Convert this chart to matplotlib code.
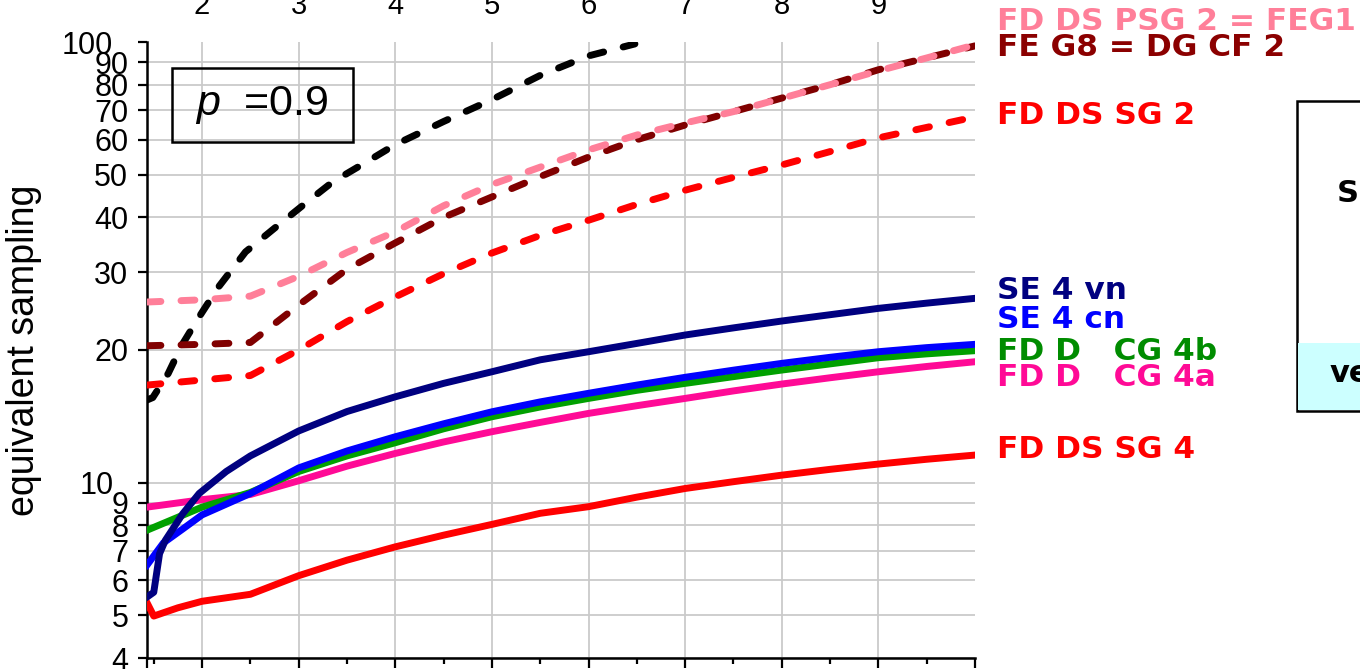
import matplotlib
matplotlib.use("Agg")
import matplotlib.pyplot as plt
from matplotlib.patches import Rectangle
from matplotlib.transforms import blended_transform_factory, ScaledTranslation

plt.rcParams["font.family"] = ["Liberation Sans", "DejaVu Sans"]
plt.rcParams["mathtext.fontset"] = "custom"
plt.rcParams["mathtext.it"] = "Liberation Sans:italic"
plt.rcParams["mathtext.rm"] = "Liberation Sans"

# ---- data -------------------------------------------------------------
x_grid = [1.43, 2.0, 2.5, 3.0, 3.5, 4.0, 4.5, 5.0, 5.5, 6.0, 6.5,
          7.0, 7.5, 8.0, 8.5, 9.0, 9.5, 10.0]

black_x = [1.43, 1.49, 1.65, 1.79, 1.96, 2.17, 2.45, 2.75, 3.05, 3.35,
           3.7, 4.0, 4.5, 5.0, 5.5, 6.0, 6.48]
black_y = [15.4, 15.6, 17.7, 20.5, 23.6, 27.8, 33.4, 37.8, 42.7, 48.1,
           53.4, 58.5, 66.0, 74.0, 84.0, 93.0, 99.0]

psg2_y = [25.7, 26.0, 26.5, 29.4, 33.3, 37.1, 42.5, 47.5, 52.0, 56.9,
          61.5, 65.5, 69.5, 74.5, 80.0, 86.0, 92.0, 98.5]
feg8_y = [20.45, 20.6, 20.8, 25.3, 30.5, 35.0, 40.0, 44.5, 49.5, 54.8,
          60.0, 64.8, 69.5, 74.6, 80.0, 86.5, 92.0, 98.0]
sg2_y = [16.65, 17.1, 17.5, 20.0, 23.2, 26.4, 29.8, 33.2, 36.4, 39.4,
         42.8, 46.1, 49.3, 52.6, 56.4, 60.6, 64.0, 67.6]

vn_x = [1.43, 1.5, 1.56, 1.62, 1.8, 1.97, 2.25, 2.5, 3.0, 3.5, 4.0, 4.5,
        5.0, 5.5, 6.0, 6.5, 7.0, 7.5, 8.0, 8.5, 9.0, 9.5, 10.0]
vn_y = [5.5, 5.64, 6.9, 7.4, 8.5, 9.45, 10.6, 11.5, 13.1, 14.5, 15.66, 16.8,
        17.85, 19.0, 19.82, 20.7, 21.63, 22.45, 23.27, 24.05, 24.86, 25.55,
        26.2]

cn_x = [1.43, 1.6, 1.8, 2.0, 2.5, 3.0, 3.5, 4.0, 4.5, 5.0, 5.5, 6.0, 6.5,
        7.0, 7.5, 8.0, 8.5, 9.0, 9.5, 10.0]
cn_y = [6.5, 7.3, 7.85, 8.45, 9.45, 10.8, 11.8, 12.71, 13.6, 14.48, 15.25,
        15.95, 16.65, 17.34, 18.0, 18.65, 19.25, 19.82, 20.25, 20.6]

cg4b_y = [7.8, 8.8, 9.5, 10.6, 11.5, 12.32, 13.25, 14.11, 14.85, 15.53,
          16.2, 16.8, 17.4, 18.01, 18.6, 19.21, 19.6, 19.93]
cg4a_y = [8.8, 9.15, 9.4, 10.1, 10.9, 11.65, 12.37, 13.05, 13.7, 14.36,
          14.95, 15.53, 16.15, 16.74, 17.3, 17.85, 18.35, 18.81]

sg4_x = [1.43, 1.5, 1.75, 2.0, 2.5, 3.0, 3.5, 4.0, 4.5, 5.0, 5.5, 6.0, 6.5,
         7.0, 7.5, 8.0, 8.5, 9.0, 9.5, 10.0]
sg4_y = [5.34, 4.98, 5.2, 5.38, 5.58, 6.15, 6.67, 7.15, 7.6, 8.04, 8.52,
         8.82, 9.27, 9.7, 10.05, 10.4, 10.72, 11.02, 11.3, 11.55]

y_ticks = [4, 5, 6, 7, 8, 9, 10, 20, 30, 40, 50, 60, 70, 80, 90, 100]
x_major = [2, 3, 4, 5, 6, 7, 8, 9, 10]
top_labels = ["2", "3", "4", "5", "6", "7", "8", "9"]

series_labels = [
    ("FD DS PSG 2 = FEG1", "#FF7F99", 22),
    ("FE G8 = DG CF 2", "#8B0000", 48),
    ("FD DS SG 2", "#FF0000", 116),
    ("SE 4 vn", "#000080", 290),
    ("SE 4 cn", "#0000FF", 320),
    ("FD D   CG 4b", "#008C00", 351),
    ("FD D   CG 4a", "#FF0A96", 377),
    ("FD DS SG 4", "#FF0000", 450),
]

# ---- figure -----------------------------------------------------------
W, H = 1360, 669
fig = plt.figure(figsize=(W / 100, H / 100), dpi=100)
ax = fig.add_axes([147 / W, 11 / H, 828 / W, 616 / H])
ax.set_yscale("log")
ax.set_xlim(1.43, 10.0)
ax.set_ylim(4, 100)

grid_c = "#CACACA"
for v in y_ticks[:-1]:
    ax.axhline(v, color=grid_c, lw=1.3, zorder=0)
for v in x_major[:-1]:
    ax.axvline(v, color=grid_c, lw=1.3, zorder=0)

dash = (2.0, 2.9)
lw = 5.0
dash_kw = dict(lw=lw, dashes=dash, dash_capstyle="round", zorder=3)
ax.plot(black_x, black_y, color="black", **dash_kw)
ax.plot(x_grid, feg8_y, color="#800000", **dash_kw)
ax.plot(x_grid, psg2_y, color="#FF7F99", **dash_kw)
ax.plot(x_grid, sg2_y, color="#FF0000", **dash_kw)

ax.plot(sg4_x, sg4_y, color="#FF0000", lw=lw, zorder=3)
ax.plot(x_grid, cg4a_y, color="#FF0A96", lw=lw, zorder=3)
ax.plot(x_grid, cg4b_y, color="#00A000", lw=lw, zorder=3)
ax.plot(cn_x, cn_y, color="#0000FF", lw=lw, zorder=3)
ax.plot(vn_x, vn_y, color="#000080", lw=lw, zorder=3)

ax.set_yticks(y_ticks)
ax.set_yticklabels([str(v) for v in y_ticks])
ax.yaxis.set_minor_locator(matplotlib.ticker.NullLocator())
ax.tick_params(axis="y", which="major", direction="out", length=6.5,
               width=1.6, labelsize=22, pad=7)

# labels of the decade lines sit a little further out
shift = ScaledTranslation(-15 / 100, 0, fig.dpi_scale_trans)
for tick, v in zip(ax.yaxis.get_major_ticks(), y_ticks):
    if v in (10, 100):
        tick.label1.set_transform(tick.label1.get_transform() + shift)

ax.set_xticks([1.43] + x_major)
ax.set_xticks([v + 0.5 for v in range(1, 10)], minor=True)
ax.tick_params(axis="x", which="major", direction="out", length=7.5,
               width=1.6, labelbottom=False)
ax.tick_params(axis="x", which="minor", direction="out", length=4.5,
               width=1.6)

for side in ("top", "right"):
    ax.spines[side].set_visible(False)
for side in ("left", "bottom"):
    ax.spines[side].set_linewidth(1.8)

ax.set_ylabel("equivalent sampling", fontsize=27)
ax.yaxis.set_label_coords(-(147 - 42) / 828, 0.5)

# x labels along the top edge
tr = blended_transform_factory(ax.transData, fig.transFigure)
for v, s in zip(x_major[:-1], top_labels):
    ax.text(v, 1 - 14 / H, s, transform=tr, ha="center", va="baseline",
            fontsize=21, clip_on=False)

# parameter box
fig.patches.append(Rectangle((172 / W, 1 - 142 / H), 181 / W, 74 / H,
                             transform=fig.transFigure, fill=False,
                             edgecolor="black", lw=1.8))
fig.text(262 / W, 1 - 105 / H, r"$p$  =0.9", ha="center", va="center",
         fontsize=31)

# series names
for text, col, py in series_labels:
    fig.text(997 / W, 1 - py / H, text, color=col, fontsize=22.5,
             fontweight="bold", family="DejaVu Sans", ha="left",
             va="center")

# side panel
fig.patches.append(Rectangle((1297 / W, 1 - 411 / H), 100 / W, 310 / H,
                             transform=fig.transFigure, facecolor="white",
                             edgecolor="black", lw=1.8))
fig.patches.append(Rectangle((1298 / W, 1 - 410 / H), 100 / W, 67 / H,
                             transform=fig.transFigure, facecolor="#CCFFFF",
                             edgecolor="none"))
fig.text(1337 / W, 1 - 194 / H, "S", fontsize=22, fontweight="bold",
         family="DejaVu Sans", ha="left", va="center")
fig.text(1330 / W, 1 - 374 / H, "ve", fontsize=22, fontweight="bold",
         family="DejaVu Sans", ha="left", va="center")

fig.savefig("out.png", dpi=100)
